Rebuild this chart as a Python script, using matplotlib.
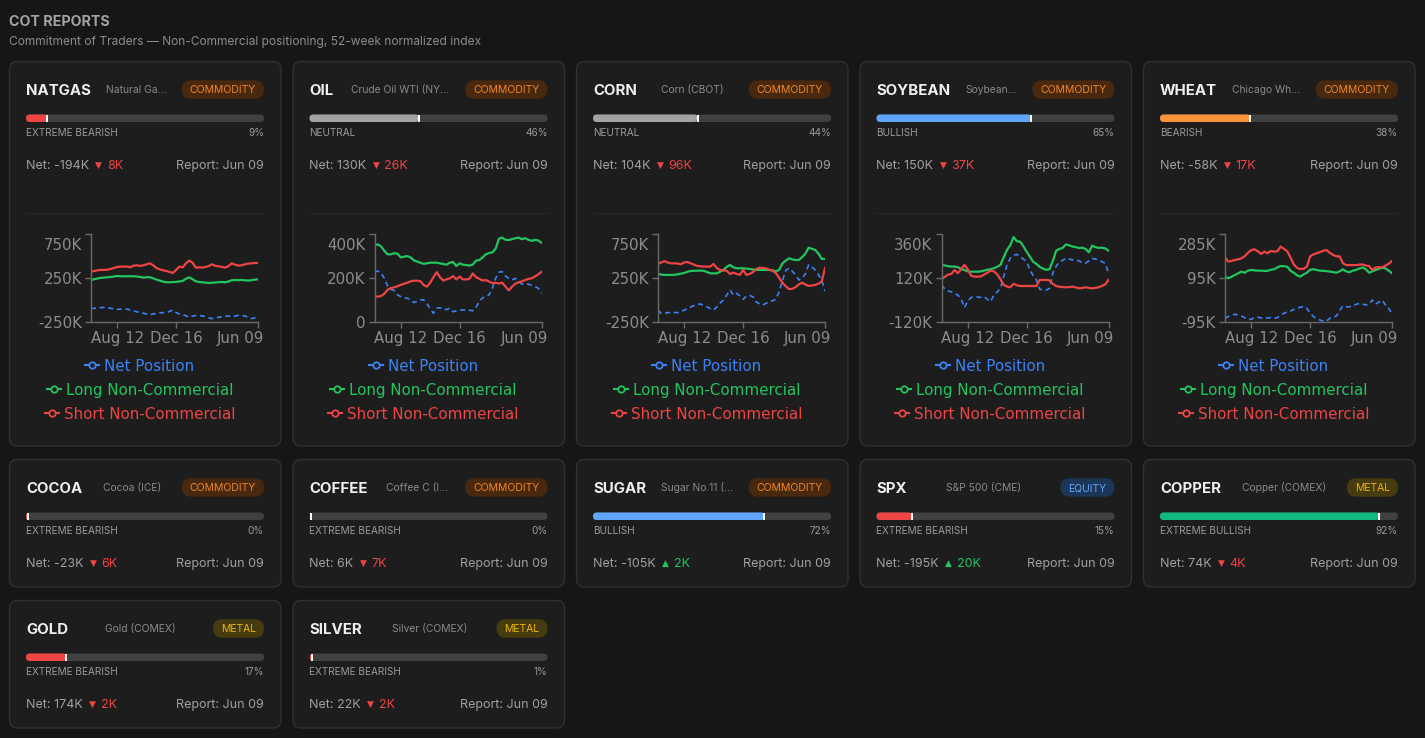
import matplotlib
matplotlib.use("Agg")
import matplotlib.pyplot as plt
from matplotlib.patches import FancyBboxPatch, Rectangle
from matplotlib.lines import Line2D
from matplotlib.transforms import ScaledTranslation
import pandas as pd

# ---------------- data ----------------
tickers = ['NATGAS', 'OIL', 'CORN', 'SOYBEAN', 'WHEAT', 'COCOA', 'COFFEE',
           'SUGAR', 'SPX', 'COPPER', 'GOLD', 'SILVER']
names = ['Natural Ga\u2026', 'Crude Oil WTI (NY\u2026', 'Corn (CBOT)', 'Soybean\u2026',
         'Chicago Wh\u2026', 'Cocoa (ICE)', 'Coffee C (I\u2026', 'Sugar No.11 (\u2026',
         'S&P 500 (CME)', 'Copper (COMEX)', 'Gold (COMEX)', 'Silver (COMEX)']
sectors = ['COMMODITY', 'COMMODITY', 'COMMODITY', 'COMMODITY', 'COMMODITY', 'COMMODITY',
           'COMMODITY', 'COMMODITY', 'EQUITY', 'METAL', 'METAL', 'METAL']
index_pct = [9, 46, 44, 65, 38, 0, 0, 72, 15, 92, 17, 1]
sentiments = ['EXTREME BEARISH', 'NEUTRAL', 'NEUTRAL', 'BULLISH', 'BEARISH',
              'EXTREME BEARISH', 'EXTREME BEARISH', 'BULLISH', 'EXTREME BEARISH',
              'EXTREME BULLISH', 'EXTREME BEARISH', 'EXTREME BEARISH']
net_k = [-194, 130, 104, 150, -58, -23, 6, -105, -195, 74, 174, 22]
change_k = [-8, -26, -96, -37, -17, -6, -7, 2, 20, -4, -2, -2]
report_date = 'Jun 09'

dates = pd.date_range('2025-06-17', periods=52, freq='7D')
xtick_dates = pd.to_datetime(['2025-08-12', '2025-12-16', '2026-06-09'])
xtick_labels = ['Aug 12', 'Dec 16', 'Jun 09']

natgas_net = [-95, -91, -87, -84, -80, -84, -91, -98, -102, -102, -102, -100, -110, -121, -130,
              -140, -148, -155, -163, -155, -148, -142, -140, -140, -125, -110, -140, -155, -165,
              -175, -193, -180, -172, -172, -178, -186, -200, -208, -200, -193, -186, -178, -180,
              -186, -178, -170, -174, -178, -193, -208, -200, -194]
natgas_long = [231, 240, 248, 255, 258, 262, 266, 269, 277, 273, 273, 273, 273, 273, 270, 266,
               258, 262, 262, 250, 235, 224, 212, 205, 205, 208, 208, 214, 220, 245, 261, 240,
               216, 208, 205, 201, 197, 200, 203, 206, 208, 205, 214, 228, 231, 228, 231, 228,
               224, 228, 235, 239]
natgas_short = [326, 333, 341, 345, 345, 348, 356, 367, 379, 383, 383, 383, 375, 394, 398, 390,
                398, 409, 420, 398, 367, 352, 341, 333, 322, 311, 345, 383, 375, 420, 451, 428,
                371, 375, 371, 379, 390, 409, 390, 386, 379, 371, 390, 420, 405, 394, 398, 409,
                417, 420, 424, 424]

oil_net = [230, 233, 225, 200, 165, 150, 145, 125, 117, 112, 109, 104, 90, 95, 102, 102, 85, 60,
           41, 64, 66, 60, 58, 64, 48, 52, 56, 56, 56, 55, 52, 68, 95, 112, 115, 125, 155, 200,
           228, 230, 210, 200, 192, 200, 185, 174, 174, 173, 168, 162, 155, 132]
oil_long = [351, 354, 345, 325, 309, 309, 314, 312, 295, 298, 301, 295, 282, 276, 271, 266, 268,
            271, 271, 271, 268, 265, 262, 271, 274, 256, 268, 262, 260, 258, 262, 280, 283, 295,
            309, 315, 318, 335, 380, 385, 375, 374, 378, 382, 385, 378, 382, 375, 370, 375, 372,
            362]
oil_short = [117, 117, 119, 130, 148, 155, 159, 164, 170, 175, 180, 186, 189, 189, 187, 170, 162,
             180, 205, 228, 205, 190, 195, 200, 210, 195, 208, 195, 195, 198, 222, 205, 198, 190,
             192, 185, 178, 180, 176, 180, 162, 145, 162, 175, 182, 186, 192, 197, 200, 208, 218,
             229]

corn_net = [-110, -150, -148, -140, -140, -140, -140, -125, -112, -95, -75, -60, -48, -42, -60,
            -75, -95, -110, -75, -30, 4, 60, 117, 61, 80, 50, 11, 49, 55, 40, -20, -40, -53, -35,
            -15, -5, 10, 100, 220, 340, 364, 330, 290, 231, 250, 300, 402, 380, 345, 290, 231, 104]
corn_long = [299, 292, 288, 288, 288, 290, 295, 303, 310, 325, 333, 335, 337, 337, 335, 320, 307,
             305, 307, 325, 345, 380, 402, 375, 364, 364, 364, 360, 356, 350, 345, 345, 345, 345,
             345, 340, 330, 345, 420, 450, 477, 465, 458, 458, 490, 530, 598, 585, 572, 530, 470,
             470]
corn_short = [413, 430, 445, 428, 420, 420, 418, 410, 430, 435, 420, 405, 390, 386, 383, 383, 383,
              413, 364, 345, 340, 335, 299, 314, 300, 290, 345, 288, 300, 320, 355, 371, 368, 362,
              348, 335, 310, 255, 200, 160, 128, 130, 150, 180, 200, 180, 163, 168, 174, 190, 212,
              364]

soybean_net = [84, 62, 50, 47, 35, 29, 8, -40, -5, 15, 20, 18, 16, 20, 5, -7, 29, 45, 65, 130,
               193, 230, 245, 251, 238, 225, 211, 165, 135, 111, 60, 58, 56, 65, 150, 185, 211,
               218, 229, 225, 220, 220, 215, 205, 202, 215, 229, 225, 220, 210, 202, 150]
soybean_long = [193, 190, 186, 184, 184, 180, 172, 165, 158, 156, 156, 156, 158, 162, 166, 170,
                175, 182, 193, 235, 275, 300, 345, 322, 320, 295, 265, 238, 210, 198, 182, 173,
                166, 170, 215, 270, 280, 286, 305, 300, 293, 290, 285, 287, 280, 262, 298, 290,
                286, 287, 283, 271]
soybean_short = [115, 128, 140, 144, 165, 148, 170, 193, 170, 135, 129, 129, 130, 140, 150, 162,
                 158, 142, 115, 84, 75, 71, 90, 82, 78, 78, 78, 78, 78, 78, 111, 111, 111, 108, 90,
                 78, 74, 72, 71, 72, 75, 70, 66, 67, 71, 68, 65, 68, 71, 78, 87, 111]

wheat_net = [-78, -70, -64, -60, -64, -68, -75, -82, -82, -75, -73, -76, -78, -76, -75, -77, -75,
             -65, -56, -50, -46, -40, -33, -30, -27, -35, -55, -70, -80, -85, -90, -90, -78, -72,
             -68, -45, -24, -28, -28, -24, -18, -13, -16, -20, -17, 1, -16, -8, 1, -20, -35, -58]
wheat_long = [102, 95, 102, 109, 116, 124, 119, 128, 131, 129, 128, 128, 127, 127, 132, 134, 142,
              148, 147, 145, 128, 119, 108, 102, 112, 119, 132, 134, 131, 128, 127, 126, 124, 122,
              119, 125, 134, 125, 121, 128, 131, 137, 142, 134, 119, 125, 131, 136, 141, 138, 128,
              117]
wheat_short = [186, 167, 170, 174, 177, 181, 190, 205, 217, 220, 212, 200, 210, 203, 213, 210,
               212, 232, 222, 212, 185, 155, 140, 135, 136, 145, 190, 198, 203, 208, 214, 217,
               205, 196, 190, 190, 160, 152, 152, 152, 152, 154, 155, 150, 148, 131, 142, 143,
               142, 150, 158, 170]

natgas_yticks = [-250, 250, 750]
oil_yticks = [0, 200, 400]
corn_yticks = [-250, 250, 750]
soybean_yticks = [-120, 120, 360]
wheat_yticks = [-95, 95, 285]

chart_series = [
    (natgas_net, natgas_long, natgas_short, natgas_yticks),
    (oil_net, oil_long, oil_short, oil_yticks),
    (corn_net, corn_long, corn_short, corn_yticks),
    (soybean_net, soybean_long, soybean_short, soybean_yticks),
    (wheat_net, wheat_long, wheat_short, wheat_yticks),
]
legend_labels = ['Net Position', 'Long Non-Commercial', 'Short Non-Commercial']

# ---------------- style ----------------
W, H = 1425, 738
BG = '#161616'
CARD = '#1d1d1d'
BORDER = '#303030'
UI = ['Inter', 'DejaVu Sans']
SYM = ['DejaVu Sans']
C_NET, C_LONG, C_SHORT = '#3b82f6', '#22c55e', '#ef4444'
legend_colors = [C_NET, C_LONG, C_SHORT]
SENT_COL = {'EXTREME BEARISH': '#ef4444', 'BEARISH': '#fb923c', 'NEUTRAL': '#a3a3a3',
            'BULLISH': '#60a5fa', 'EXTREME BULLISH': '#10b981'}
BADGE = {'COMMODITY': ('#48280f', '#f0862a'), 'EQUITY': ('#1d3557', '#60a5fa'),
         'METAL': ('#473b10', '#eab308')}

fig = plt.figure(figsize=(W / 100, H / 100), dpi=100, facecolor=BG)
bg = fig.add_axes([0, 0, 1, 1])
bg.set_xlim(0, W)
bg.set_ylim(H, 0)
bg.axis('off')
bg.set_facecolor(BG)
renderer = fig.canvas.get_renderer()


def text_c(x, yc, s, size, color, family=UI, weight='normal', ha='left', cap=0.727):
    px = size * 100 / 72
    return bg.text(x, yc + cap * px / 2, s, fontsize=size, color=color, family=family,
                   weight=weight, ha=ha, va='baseline')


def width_of(t):
    return t.get_window_extent(renderer=renderer).width


def measure(s, size, family=UI, weight='normal'):
    t = bg.text(0, 0, s, fontsize=size, family=family, weight=weight)
    w = width_of(t)
    t.remove()
    return w


# header
text_c(9, 20.8, 'COT REPORTS', 10.3, '#a3a3a3', weight='bold')
text_c(9, 40.5, 'Commitment of Traders \u2014 Non-Commercial positioning, 52-week normalized index',
       8.6, '#8c8c8c')

card_w = 271.5
row_tops = [61.5, 459.5, 600.5]
row_heights = [384.5, 127.5, 127.5]


def draw_card(i, cx, cy, ch):
    bg.add_patch(FancyBboxPatch((cx, cy), card_w, ch, boxstyle='round,pad=0,rounding_size=8',
                                fc=CARD, ec=BORDER, lw=1))
    x0 = cx + 16.5
    x1 = cx + card_w - 17
    # ticker
    t = text_c(x0, cy + 28.5, tickers[i], 10.8, '#f0f0f0', weight='bold')
    tick_end = x0 + width_of(t)
    # badge
    bfc, btc = BADGE[sectors[i]]
    bw = measure(sectors[i], 7.5) + 16
    bxl = x1 - bw
    bg.add_patch(FancyBboxPatch((bxl, cy + 18.8), bw, 18.4,
                                boxstyle='round,pad=0,rounding_size=9.2', fc=bfc, ec='none'))
    text_c(bxl + bw / 2, cy + 28, sectors[i], 7.5, btc, ha='center')
    # name
    text_c((tick_end + bxl) / 2, cy + 27.5, names[i], 7.4, '#8a8a8a', ha='center')
    # bar
    by, bh = cy + 53, 7.5
    barw = x1 - x0
    bg.add_patch(FancyBboxPatch((x0, by), barw, bh, boxstyle=f'round,pad=0,rounding_size={bh / 2}',
                                fc='#404040', ec='none'))
    scol = SENT_COL[sentiments[i]]
    fw = barw * index_pct[i] / 100
    if fw >= bh:
        bg.add_patch(FancyBboxPatch((x0, by), fw, bh,
                                    boxstyle=f'round,pad=0,rounding_size={bh / 2}', fc=scol, ec='none'))
    else:
        bg.add_patch(Rectangle((x0 + 0.3, by + 1), max(fw, 1.2), bh - 2, fc=scol, ec='none'))
    mx = max(x0 + fw, x0 + 2)
    bg.add_patch(Rectangle((mx - 1, by), 2, bh, fc='white', ec='none'))
    # sentiment row
    text_c(x0, cy + 71.3, sentiments[i], 7.2, '#9a9a9a')
    text_c(x1, cy + 71.3, f'{index_pct[i]}%', 7.2, '#9a9a9a', ha='right')
    # net row
    ny = cy + 102.5
    t = text_c(x0, ny, f'Net: {net_k[i]}K', 9, '#a0a0a0')
    xx = x0 + width_of(t) + 6
    up = change_k[i] > 0
    ccol = '#22c55e' if up else '#ef4444'
    t = text_c(xx, ny, '\u25b2' if up else '\u25bc', 6.5, ccol, family=SYM, cap=0.8)
    xx += width_of(t) + 5
    text_c(xx, ny, f'{abs(change_k[i])}K', 9, ccol)
    text_c(x1, ny, f'Report: {report_date}', 9, '#a0a0a0', ha='right')


def draw_chart(i, cx, cy):
    net, lng, sht, yt = chart_series[i]
    x0 = cx + 16.5
    x1 = cx + card_w - 17
    bg.plot([x0, x1], [cy + 151.5] * 2, color='#272727', lw=1)
    l, r, t, b = cx + 81.5, cx + 248.5, cy + 172.8, cy + 260.8
    ax = fig.add_axes([l / W, 1 - b / H, (r - l) / W, (b - t) / H])
    ax.set_facecolor('none')
    ax.plot(dates, net, color=C_NET, lw=1.2, dashes=(3, 2.2))
    ax.plot(dates, lng, color=C_LONG, lw=1.6)
    ax.plot(dates, sht, color=C_SHORT, lw=1.6)
    ax.set_xlim(dates[0], dates[-1])
    ax.set_ylim(yt[0], yt[-1])
    for sp in ['top', 'right']:
        ax.spines[sp].set_visible(False)
    for sp in ['left', 'bottom']:
        ax.spines[sp].set_color('#6a6a6a')
        ax.spines[sp].set_linewidth(1)
    ax.set_yticks(yt)
    ax.set_yticklabels([f'{v}K' if v != 0 else '0' for v in yt])
    ax.set_xticks(xtick_dates)
    ax.set_xticklabels(xtick_labels)
    ax.tick_params(colors='#6a6a6a', labelcolor='#8c8c8c', labelsize=10.8, length=4,
                   width=1, pad=2.5)
    for lab in ax.get_yticklabels():
        lab.set_family('DejaVu Sans')
    for lab in ax.get_xticklabels():
        lab.set_family('DejaVu Sans')
    toplab = ax.get_yticklabels()[-1]
    toplab.set_transform(toplab.get_transform() + ScaledTranslation(0, -0.094, fig.dpi_scale_trans))
    lastx = ax.get_xticklabels()[-1]
    lastx.set_horizontalalignment('right')
    lastx.set_transform(lastx.get_transform() + ScaledTranslation(0.06, 0, fig.dpi_scale_trans))
    # legend rows
    xc = cx + 130.5
    for k, (lab, col) in enumerate(zip(legend_labels, legend_colors)):
        y = cy + 303.5 + 24 * k
        tw = measure(lab, 10.9, family=SYM)
        lx = xc - (19 + tw) / 2
        bg.add_line(Line2D([lx, lx + 14], [y, y], color=col, lw=1.5))
        bg.plot([lx + 7], [y], marker='o', ms=4.6, mfc=CARD, mec=col, mew=1.3)
        text_c(lx + 19, y, lab, 10.9, col, family=SYM, cap=0.73)


for i in range(len(tickers)):
    if i < 5:
        row, col = 0, i
    elif i < 10:
        row, col = 1, i - 5
    else:
        row, col = 2, i - 10
    cx = 9.5 + col * 283.5
    cy = row_tops[row]
    draw_card(i, cx, cy, row_heights[row])
    if row == 0:
        draw_chart(i, cx, cy)

fig.savefig('out.png', dpi=100, facecolor=BG)
